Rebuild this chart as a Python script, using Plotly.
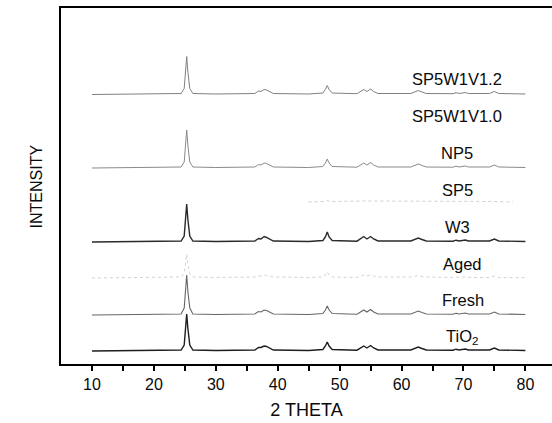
import plotly.graph_objects as go

# 2-theta sample points (degrees)
two_theta = [10, 20, 24.4, 24.9, 25.1, 25.3, 25.5, 25.8, 26.3, 30, 36.3, 36.9, 37.3, 37.8, 38.2,
             38.6, 39.3, 45, 47.3, 47.7, 48.0, 48.3, 48.8, 52.8, 53.4, 53.9, 54.4, 55.0, 55.5,
             56.2, 61.5, 62.2, 62.7, 63.3, 64, 68.3, 68.8, 69.3, 70.0, 70.3, 70.8, 74.2, 75.0,
             75.7, 80]

# intensities above each baseline (arbitrary units)
I_sp5w1v12 = [0, 0.3, 1, 6, 20, 38, 22, 6, 1, 0.5, 1, 3.5, 3, 5, 4.5, 3.5, 1, 0.5, 1.5, 5, 9, 5, 1.5,
              0.8, 3.5, 5, 3, 5.5, 3, 1, 1, 3, 4, 2.5, 1, 0.8, 1.8, 1, 1.2, 2, 1, 1, 3, 1, 0.5]
I_np5 = [0, 0.3, 1, 6, 20, 38, 22, 6, 1, 0.5, 1, 3.5, 3, 5, 4.5, 3.5, 1, 0.5, 1.5, 5, 9, 5, 1.5,
         0.8, 3.5, 5, 3, 5.5, 3, 1, 1, 3, 4, 2.5, 1, 0.8, 1.8, 1, 1.2, 2, 1, 1, 3, 1, 0.5]
I_w3 = [0, 0.3, 1, 6, 20, 38, 22, 6, 1, 0.5, 1, 3.5, 3, 5.5, 4.5, 3.5, 1, 0.5, 1.5, 5, 10, 5, 1.5,
        0.8, 3.5, 5.5, 3, 5.5, 3, 1, 1, 3, 4, 2.5, 1, 0.8, 1.8, 1, 1.2, 2, 1, 1, 3, 1, 0.5]
I_aged = [0, 0.3, 1, 4, 12, 24, 13, 4, 1, 0.5, 1, 2, 2, 3, 2.5, 2, 1, 0.5, 1, 3, 6, 3, 1,
          0.5, 2, 3, 2, 3, 2, 1, 1, 2, 2.5, 1.5, 1, 0.5, 1, 0.5, 1, 1.2, 0.5, 0.5, 2, 0.5, 0.3]
I_fresh = [0, 0.3, 1, 7, 22, 40, 23, 7, 1, 0.5, 1, 3.5, 3, 5, 4.5, 3.5, 1, 0.5, 1.5, 5, 9, 5, 1.5,
           0.8, 3.5, 5, 3, 5.5, 3, 1, 1, 3, 4, 2.5, 1, 0.8, 1.8, 1, 1.2, 2, 1, 1, 3, 1, 0.5]
I_tio2 = [0, 0.3, 1, 6, 20, 37, 22, 6, 1, 0.5, 1, 3.5, 3.5, 5, 4.5, 3.5, 1, 0.5, 1.5, 5, 9, 5, 1.5,
          0.8, 3.5, 5, 3, 5.5, 3, 1, 1, 3, 4, 2.5, 1, 0.8, 1.8, 1, 1.2, 2, 1, 1, 3, 1, 0.5]

# SP5 is only faintly visible between ~45 and ~78 degrees
two_theta_sp5 = [45, 47.5, 48.0, 48.5, 54, 55, 62.5, 70, 75, 78]
I_sp5 = [0, 0.5, 1.5, 0.5, 1, 1, 0.5, 0.3, 0.5, 0]

# vertical offsets (baselines) of the stacked patterns
offsets = {"SP5W1V1.2": 269.5, "NP5": 196, "SP5": 162, "W3": 122, "Aged": 86, "Fresh": 49, "TiO2": 13}

labels = ["SP5W1V1.2", "SP5W1V1.0", "NP5", "SP5", "W3", "Aged", "Fresh", "TiO<sub>2</sub>"]
label_x = [68.9, 68.9, 69.0, 69.0, 69.0, 69.9, 69.9, 69.7]
label_y = [285, 248, 211, 174, 137, 100, 64, 27]

FONT = "Liberation Sans, Arial"

fig = go.Figure()

def add(xs, ys, off, color, width, dash="solid"):
    fig.add_trace(go.Scatter(x=xs, y=[v + off for v in ys], mode="lines",
                             line=dict(color=color, width=width, dash=dash),
                             showlegend=False, hoverinfo="skip"))

add(two_theta, I_sp5w1v12, offsets["SP5W1V1.2"], "#808080", 1)
add(two_theta, I_np5, offsets["NP5"], "#8a8a8a", 1)
add(two_theta_sp5, I_sp5, offsets["SP5"], "#cfcfcf", 1, "dot")
add(two_theta, I_w3, offsets["W3"], "#2a2a2a", 1.4)
add(two_theta, I_aged, offsets["Aged"], "#d2d2d2", 1, "dot")
add(two_theta, I_fresh, offsets["Fresh"], "#666666", 1.1)
add(two_theta, I_tio2, offsets["TiO2"], "#1e1e1e", 1.4)

for t, x, y in zip(labels, label_x, label_y):
    fig.add_annotation(x=x, y=y, text=t, showarrow=False, xanchor="center", yanchor="middle",
                       font=dict(family=FONT, size=16.5, color="#0a0a0a"))

# y-axis title placed as rotated text left of the frame
fig.add_annotation(xref="paper", yref="paper", x=-0.05, y=0.5, text="INTENSITY",
                   textangle=-90, showarrow=False, xanchor="center", yanchor="middle",
                   font=dict(family=FONT, size=16, color="#0a0a0a"))

fig.update_layout(
    width=552, height=423,
    margin=dict(l=61, r=0, t=8, b=59),
    paper_bgcolor="white", plot_bgcolor="white",
    font=dict(family=FONT, color="#0a0a0a"),
    xaxis=dict(range=[5, 84.3], showline=True, linewidth=2, linecolor="black", mirror=True,
               showgrid=False, zeroline=False, ticks="outside", ticklen=5, tickwidth=1.5,
               tickcolor="black", tickvals=[10, 20, 30, 40, 50, 60, 70, 80],
               tickfont=dict(size=16), minor=dict(tickvals=[15, 25, 35, 45, 55, 65, 75], ticks="outside",
                                                  ticklen=5, tickwidth=1.5, tickcolor="black"),
               title=dict(text="2 THETA", font=dict(size=18), standoff=11)),
    yaxis=dict(range=[0, 356], showline=True, linewidth=1.5, linecolor="black", mirror=False,
               showgrid=False, zeroline=False, showticklabels=False, ticks=""),
)

fig.write_html("out.html")
